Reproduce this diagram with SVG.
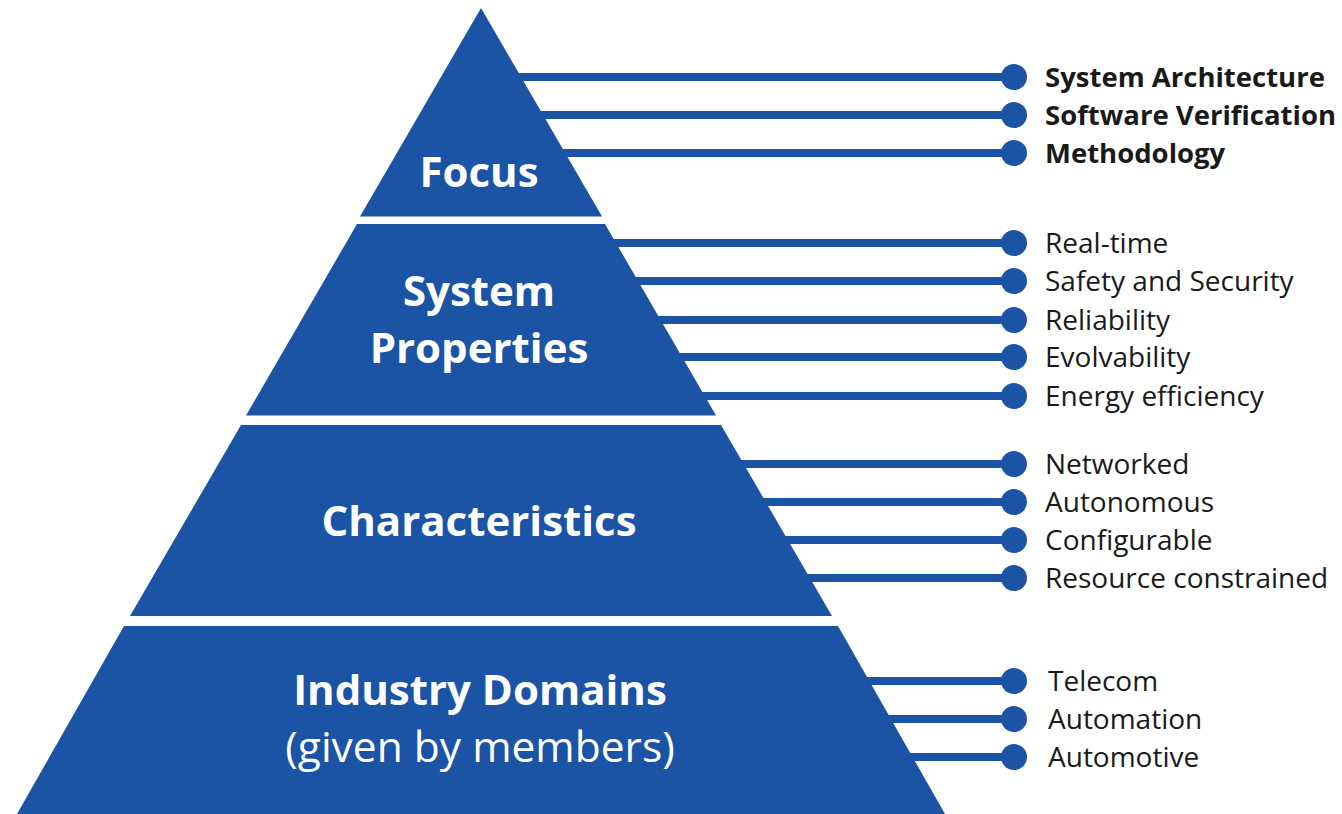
<svg xmlns="http://www.w3.org/2000/svg" width="1342" height="814" viewBox="0 0 1342 814">
<style>
.band{fill:#1b54a4}
.conn line{stroke:#1b54a4;stroke-width:8}
.dot{fill:#1b54a4}
.pt{font-family:"Open Sans","Noto Sans",sans-serif;fill:#fff;text-anchor:middle;font-weight:bold;font-size:42px}
.pr{font-weight:normal;font-size:42.5px}
.lb{font-family:"Open Sans","Noto Sans",sans-serif;fill:#1a1a1a;font-size:28px}
.lbb{font-weight:bold;font-size:27.5px}
</style>
<rect width="1342" height="814" fill="#fff"/>
<g id="connectors" class="conn">
<line x1="481" y1="77" x2="1014" y2="77"/>
<line x1="481" y1="115" x2="1014" y2="115"/>
<line x1="481" y1="153" x2="1014" y2="153"/>
<line x1="481" y1="243" x2="1014" y2="243"/>
<line x1="481" y1="281" x2="1014" y2="281"/>
<line x1="481" y1="320" x2="1014" y2="320"/>
<line x1="481" y1="357" x2="1014" y2="357"/>
<line x1="481" y1="396" x2="1014" y2="396"/>
<line x1="481" y1="464" x2="1014" y2="464"/>
<line x1="481" y1="502" x2="1014" y2="502"/>
<line x1="481" y1="540" x2="1014" y2="540"/>
<line x1="481" y1="578" x2="1014" y2="578"/>
<line x1="481" y1="681" x2="1014" y2="681"/>
<line x1="481" y1="719" x2="1014" y2="719"/>
<line x1="481" y1="757" x2="1014" y2="757"/>
</g>
<g id="focus">
<polygon class="band" points="481,8 602,216.5 360,216.5"/>
<text class="pt" x="479" y="187">Focus</text>
</g>
<g id="system-properties">
<polygon class="band" points="357,224 605,224 716,415.5 246,415.5"/>
<text class="pt" x="479" y="306">System</text>
<text class="pt" x="479" y="363">Properties</text>
</g>
<g id="characteristics">
<polygon class="band" points="241,425 721,425 832,616 130,616"/>
<text class="pt" x="479" y="536">Characteristics</text>
</g>
<g id="industry-domains">
<polygon class="band" points="124,626 838,626 945,814 17,814"/>
<text class="pt" x="480" y="705">Industry Domains</text>
<text class="pt pr" x="480" y="762">(given by members)</text>
</g>
<g id="focus-items">
<circle class="dot" cx="1014" cy="77" r="13"/><text class="lb lbb" x="1045" y="87">System Architecture</text>
<circle class="dot" cx="1014" cy="115" r="13"/><text class="lb lbb" x="1045" y="125">Software Verification</text>
<circle class="dot" cx="1014" cy="153" r="13"/><text class="lb lbb" x="1045" y="163">Methodology</text>
</g>
<g id="property-items">
<circle class="dot" cx="1014" cy="243" r="13"/><text class="lb" x="1045" y="253">Real-time</text>
<circle class="dot" cx="1014" cy="281" r="13"/><text class="lb" x="1045" y="291">Safety and Security</text>
<circle class="dot" cx="1014" cy="320" r="13"/><text class="lb" x="1045" y="330">Reliability</text>
<circle class="dot" cx="1014" cy="357" r="13"/><text class="lb" x="1045" y="367">Evolvability</text>
<circle class="dot" cx="1014" cy="396" r="13"/><text class="lb" x="1045" y="406">Energy efficiency</text>
</g>
<g id="characteristic-items">
<circle class="dot" cx="1014" cy="464" r="13"/><text class="lb" x="1045" y="474">Networked</text>
<circle class="dot" cx="1014" cy="502" r="13"/><text class="lb" x="1045" y="512">Autonomous</text>
<circle class="dot" cx="1014" cy="540" r="13"/><text class="lb" x="1045" y="550">Configurable</text>
<circle class="dot" cx="1014" cy="578" r="13"/><text class="lb" x="1045" y="588">Resource constrained</text>
</g>
<g id="domain-items">
<circle class="dot" cx="1014" cy="681" r="13"/><text class="lb" x="1048" y="691">Telecom</text>
<circle class="dot" cx="1014" cy="719" r="13"/><text class="lb" x="1048" y="729">Automation</text>
<circle class="dot" cx="1014" cy="757" r="13"/><text class="lb" x="1048" y="767">Automotive</text>
</g>
</svg>
